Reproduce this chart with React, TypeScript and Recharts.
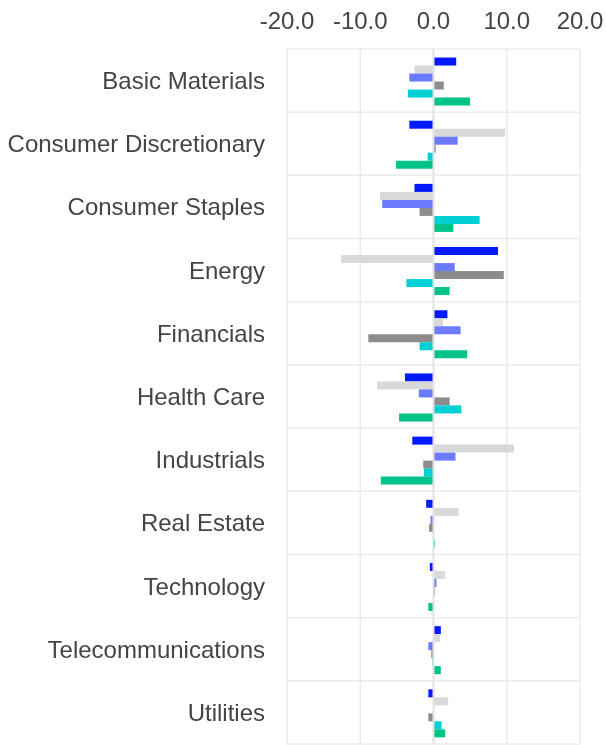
import React from 'react';
import {
    BarChart, Bar, XAxis, YAxis, CartesianGrid, ReferenceLine
} from 'recharts';

const categories = [
    'Basic Materials', 'Consumer Discretionary', 'Consumer Staples', 'Energy',
    'Financials', 'Health Care', 'Industrials', 'Real Estate',
    'Technology', 'Telecommunications', 'Utilities',
];

const seriesA = [3.1, -3.3, -2.6, 8.8, 1.9, -3.9, -2.9, -1.0, -0.5, 1.0, -0.7];
const seriesB = [-2.6, 9.8, -7.3, -12.6, 1.3, -7.7, 11.0, 3.4, 1.6, 0.9, 2.0];
const seriesC = [-3.3, 3.3, -7.0, 2.9, 3.7, -2.0, 3.0, -0.4, 0.4, -0.7, 0.0];
const seriesD = [1.4, 0.3, -1.9, 9.6, -8.9, 2.2, -1.4, -0.6, 0.2, -0.3, -0.7];
const seriesE = [-3.5, -0.8, 6.3, -3.7, -1.9, 3.8, -1.3, 0.05, 0.05, -0.15, 1.1];
const seriesF = [5.0, -5.1, 2.7, 2.2, 4.6, -4.7, -7.2, 0.2, -0.7, 1.0, 1.6];

const xTicks = [-20, -10, 0, 10, 20];

const series = [
    { key: 'a', values: seriesA, color: '#0019ff' },
    { key: 'b', values: seriesB, color: '#d9d9d9' },
    { key: 'c', values: seriesC, color: '#6b7bff' },
    { key: 'd', values: seriesD, color: '#8c8c8c' },
    { key: 'e', values: seriesE, color: '#00cfd6' },
    { key: 'f', values: seriesF, color: '#00c389' },
];

const data = categories.map((name, i) => {
    const row: Record<string, string | number> = { name };
    series.forEach(s => { row[s.key] = s.values[i]; });
    return row;
});

const font = '"Liberation Sans", Arial, sans-serif';

export default function App() {
    // fixed so the page doesn't get a scrollbar
    return (
        <div style={{ position: 'fixed', top: 8, left: 8, width: 598, height: 737, fontFamily: font }}>
            <BarChart
                width={598}
                height={737}
                data={data}
                layout="vertical"
                margin={{ top: 0, right: 26, bottom: 1, left: 0 }}
                barCategoryGap="13.5%"
                barGap={0}
            >
                <CartesianGrid
                    stroke="#ebebeb"
                    strokeWidth={1.5}
                    horizontalCoordinatesGenerator={({ offset }: any) =>
                        categories.concat(['']).map((_, i) => offset.top + (i * offset.height) / categories.length)
                    }
                />
                <XAxis
                    type="number"
                    orientation="top"
                    domain={[-20, 20]}
                    ticks={xTicks}
                    tickFormatter={(v: number) => v.toFixed(1)}
                    height={41}
                    axisLine={false}
                    tickLine={false}
                    tickSize={0}
                    tickMargin={20}
                    tick={{ fill: '#444444', fontSize: 24, fontFamily: font }}
                />
                <YAxis
                    type="category"
                    dataKey="name"
                    width={279}
                    axisLine={false}
                    tickLine={false}
                    tickSize={0}
                    tickMargin={22}
                    tick={{ fill: '#444444', fontSize: 24, fontFamily: font }}
                />
                {series.map(s => (
                    <Bar key={s.key} dataKey={s.key} fill={s.color} isAnimationActive={false} />
                ))}
                <ReferenceLine x={0} stroke="#e3e3e3" strokeWidth={2} />
            </BarChart>
        </div>
    );
}
